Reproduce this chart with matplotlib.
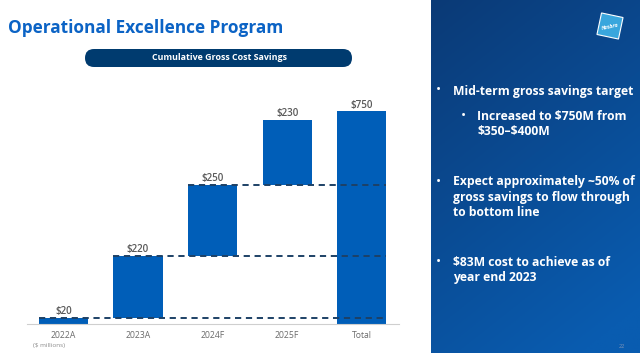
import numpy as np
import matplotlib
matplotlib.use('Agg')
import matplotlib.pyplot as plt
from matplotlib.patches import FancyBboxPatch, Rectangle
from matplotlib.transforms import Affine2D

plt.rcParams['font.family'] = ['Open Sans', 'DejaVu Sans']
plt.rcParams['text.parse_math'] = False

# chart data ($ millions)
categories = ['2022A', '2023A', '2024F', '2025F', 'Total']
savings = [20, 220, 250, 230, 750]
labels = ['$20', '$220', '$250', '$230', '$750']

bullets = [
    (0, ['Mid-term gross savings target']),
    (1, ['Increased to $750M from', '$350\u2013$400M']),
    (0, ['Expect approximately ~50% of', 'gross savings to flow through', 'to bottom line']),
    (0, ['$83M cost to achieve as of', 'year end 2023']),
]

BAR = '#005eb8'
NAVY = '#003b6f'
W, H = 640, 353

fig = plt.figure(figsize=(W / 100, H / 100), dpi=100)
fig.patch.set_facecolor('white')


def fx(px):
    return px / W


def fy(py):
    return 1 - py / H


# waterfall: each step floats on the running total, Total starts at zero
steps = np.array(savings[:-1])
bottoms = list(np.concatenate([[0], np.cumsum(steps)[:-1]])) + [0]
x = np.arange(len(categories))
bw = 0.66

ax = fig.add_axes([fx(27), fy(323.5), fx(399 - 27), (323.5 - 100) / H])
bars = ax.bar(x, savings, bw, bottom=bottoms, color=BAR, zorder=2)
ax.bar_label(bars, labels=labels, padding=0.3, fontsize=7.1, color='#5a5a5a',
             fontweight='semibold')

# dashed connectors from each step to the total bar
for i, lvl in enumerate(np.cumsum(steps)[:-1]):
    ax.hlines(lvl, x[i] - bw / 2, x[-1] + bw / 2, colors='#1d4166',
              linestyles=(0, (3.2, 2.4)), linewidth=1.4, zorder=3)

ax.set_xlim(-0.49, 4.5)
ax.set_ylim(0, 790)
ax.set_xticks(x, categories)
ax.tick_params(axis='x', length=0, labelsize=6.2, labelcolor='#6b6b6b', pad=5.5)
ax.set_yticks([])
for s in ['top', 'right', 'left']:
    ax.spines[s].set_visible(False)
ax.spines['bottom'].set_color('#cfcfcf')
ax.spines['bottom'].set_linewidth(0.8)
ax.patch.set_alpha(0)

fig.text(fx(33), fy(345), '($ millions)', fontsize=4.6, color='#8a8a8a', va='center')

# title and pill header
fig.text(fx(8), fy(28), 'Operational Excellence Program', fontsize=12.4,
         fontweight='bold', color='#0b63c5', va='center')
pill = FancyBboxPatch((85, H - 67), 267, 18, boxstyle='round,pad=0,rounding_size=9',
                      transform=None, facecolor=NAVY, edgecolor='none')
fig.patches.append(pill)
fig.text(fx(220), fy(58), 'Cumulative Gross Cost Savings', fontsize=6.4,
         fontweight='bold', color='white', ha='center', va='center')

# right-hand blue panel with a soft diagonal gradient
pax = fig.add_axes([fx(431), 0, 1 - fx(431), 1])
gy, gx = np.mgrid[0:1:200j, 0:1:120j]
t = np.clip(0.75 * gy + 0.35 * gx, 0, 1)
top = np.array([0x0b, 0x3a, 0x76]) / 255
bot = np.array([0x09, 0x5c, 0xb0]) / 255
img = top[None, None, :] * (1 - t[..., None]) + bot[None, None, :] * t[..., None]
pax.imshow(img, aspect='auto', extent=[0, 1, 1, 0])
pax.set_xlim(0, 1)
pax.set_ylim(1, 0)
pax.axis('off')

# logo: tilted light-blue square
lx, ly, ls = 610, 26, 22
logo_tr = Affine2D().rotate_deg_around(lx, H - ly, -12)
logo = Rectangle((lx - ls / 2, H - ly - ls / 2), ls, ls, transform=logo_tr,
                 facecolor='#39a6dd', edgecolor='white', linewidth=0.8)
fig.patches.append(logo)
fig.text(fx(lx), fy(ly + 1), 'Hasbro', fontsize=3.8, color='white', style='italic',
         fontweight='bold', ha='center', va='center', rotation=12)

# bullet text
y0s = [91, 116, 182, 262]
for (lvl, lines), y0 in zip(bullets, y0s):
    bx = 438 if lvl == 0 else 463
    tx = 453 if lvl == 0 else 477
    fig.text(fx(bx), fy(y0), '\u2022', fontsize=10, color='white', va='center', ha='center')
    for k, line in enumerate(lines):
        fig.text(fx(tx), fy(y0 + k * 15.5), line, fontsize=8.7, fontweight='bold',
                 color='white', va='center')

fig.text(fx(622), fy(347), '22', fontsize=4, color='#7f95b8', ha='center', va='center')

fig.savefig('out.png', dpi=100)
